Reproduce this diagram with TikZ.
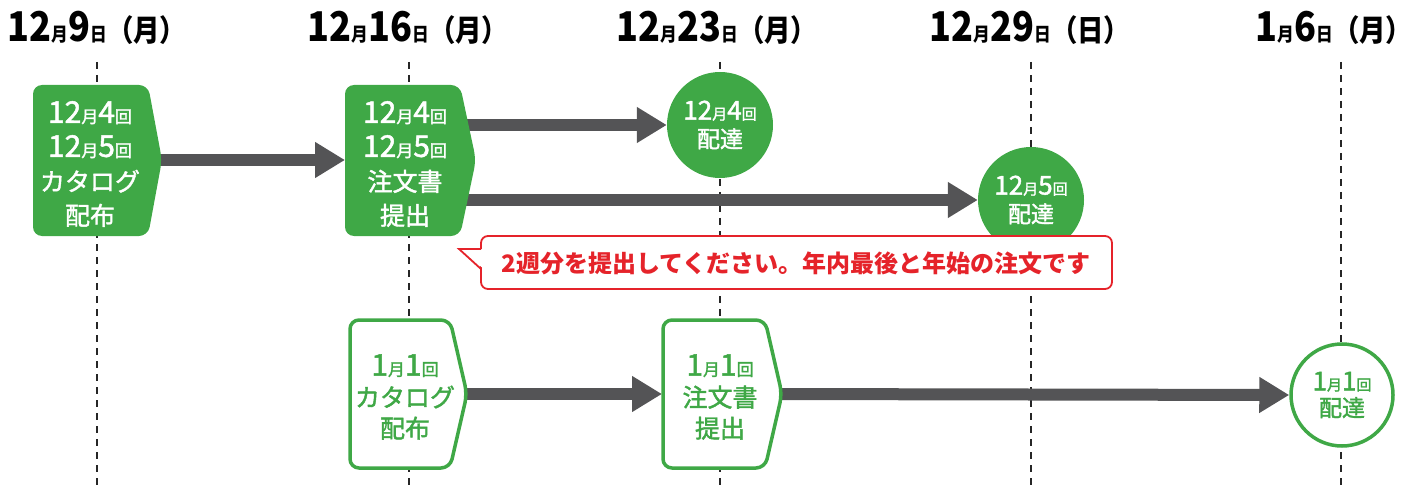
\documentclass[tikz,border=0pt]{standalone}
\usepackage{fontspec}
\setmainfont{Noto Sans CJK JP}
\newfontfamily\medf[FakeBold=1.6]{Noto Sans CJK JP}
\newfontfamily\hdf[FakeStretch=0.88]{Noto Sans CJK JP}
\usetikzlibrary{arrows.meta}
\definecolor{grn}{RGB}{63,168,70}
\definecolor{arrg}{RGB}{84,84,86}
\definecolor{rd}{RGB}{229,35,42}
\newcommand\hb[1]{{\fontsize{41}{41}\selectfont #1}}
\newcommand\hs[1]{{\fontsize{19}{19}\selectfont #1}}
\newcommand\hp[1]{{\fontsize{30}{30}\selectfont #1}}
\newcommand\bd[1]{{\fontsize{30}{30}\selectfont #1}}
\newcommand\bsm[1]{{\fontsize{17}{17}\selectfont #1}}
\newcommand\cd[1]{{\fontsize{26}{26}\selectfont #1}}
\newcommand\csm[1]{{\fontsize{15}{15}\selectfont #1}}
\tikzset{
  hdr/.style={font=\hdf\bfseries, inner sep=0pt, anchor=center},
  dline/.style={draw=black!85, line width=1.2pt, dash pattern=on 7pt off 6pt},
  arr/.style={draw=arrg, line width=12pt, -{Triangle[length=30pt,width=34pt]}},
  fshape/.style={fill=grn, rounded corners=9pt},
  oshape/.style={draw=grn, fill=white, line width=3.5pt, rounded corners=9pt},
  ftxt/.style={text=white, align=center, inner sep=0pt, font=\medf\fontsize{25}{34}\selectfont},
  otxt/.style={text=grn, align=center, inner sep=0pt, font=\medf\fontsize{25}{31}\selectfont},
  fcirc/.style={circle, fill=grn, text=white, align=center, inner sep=0pt, font=\medf\fontsize{23}{28}\selectfont},
  ocirc/.style={circle, draw=grn, fill=white, line width=3.5pt, text=grn, align=center, inner sep=0pt, font=\medf\fontsize{23}{26}\selectfont},
  note/.style={text=rd, inner sep=0pt, font=\bfseries\fontsize{24}{24}\selectfont}
}
\begin{document}
\begin{tikzpicture}[x=1pt,y=-1pt]
\useasboundingbox (0,0) rectangle (1413,489);
% headers
\node[hdr] (h1) at (97,28) {\hb{12}\hs{月}\hb{9}\hs{日}\hp{（月）}};
\node[hdr] (h2) at (408,28) {\hb{12}\hs{月}\hb{16}\hs{日}\hp{（月）}};
\node[hdr] (h3) at (717,28) {\hb{12}\hs{月}\hb{23}\hs{日}\hp{（月）}};
\node[hdr] (h4) at (1030,28) {\hb{12}\hs{月}\hb{29}\hs{日}\hp{（日）}};
\node[hdr] (h5) at (1334,28) {\hb{1}\hs{月}\hb{6}\hs{日}\hp{（月）}};
% dashed guide lines
\draw[dline] (97,62) -- (97,489);
\draw[dline] (409,62) -- (409,489);
\draw[dline] (720,62) -- (720,489);
\draw[dline] (1031,62) -- (1031,489);
\draw[dline] (1341,62) -- (1341,489);
% circles
\node[fcirc, minimum size=106pt] (c1) at (720,125) {\cd{12}\csm{月}\cd{4}\csm{回}\\配達};
\node[fcirc, minimum size=106pt] (c2) at (1031,200) {\cd{12}\csm{月}\cd{5}\csm{回}\\配達};
\node[ocirc, minimum size=102pt] (c3) at (1342,395) {\cd{1}\csm{月}\cd{1}\csm{回}\\配達};
% arrow anchor coordinates
\coordinate (b1e) at (150,160);
\coordinate (b2w) at (345,160);
\coordinate (b2ea) at (455,125);
\coordinate (b2eb) at (455,200);
\coordinate (b3e) at (455,394);
\coordinate (b4w) at (662,394);
\coordinate (b4e) at (770,394);
% arrows
\draw[arr] (b1e) -- (b2w);
\draw[arr] (b2ea) -- (c1.west);
\draw[arr] (b2eb) -- (c2.west);
\draw[arr] (b3e) -- (b4w);
\draw[arr] (b4e) -- (c3.west);
% boxes
\fill[fshape] (33,85) -- (148,85) -- (162,160) -- (148,236) -- (33,236) -- cycle;
\node[ftxt] (t1) at (90,164) {\bd{12}\bsm{月}\bd{4}\bsm{回}\\\bd{12}\bsm{月}\bd{5}\bsm{回}\\カタログ\\配布};
\fill[fshape] (345,85) -- (460,85) -- (476,160) -- (460,236) -- (345,236) -- cycle;
\node[ftxt] (t2) at (405,164) {\bd{12}\bsm{月}\bd{4}\bsm{回}\\\bd{12}\bsm{月}\bd{5}\bsm{回}\\注文書\\提出};
\draw[oshape] (350,320) -- (450,320) -- (467,394) -- (450,468) -- (350,468) -- cycle;
\node[otxt] (t3) at (405,397) {\bd{1}\bsm{月}\bd{1}\bsm{回}\\カタログ\\配布};
\draw[oshape] (663,320) -- (765,320) -- (782,394) -- (765,468) -- (663,468) -- cycle;
\node[otxt] (t4) at (720,397) {\bd{1}\bsm{月}\bd{1}\bsm{回}\\注文書\\提出};
% callout
\draw[rd, line width=1.8pt, fill=white, rounded corners=7pt] (481,236) rectangle (1112,289);
\fill[white] (459,249) -- (484,249) -- (484,269) -- cycle;
\draw[rd, line width=1.8pt, line join=miter] (481,249) -- (459,249) -- (481,269);
\node[note] (n1) at (796,263) {2週分を提出してください。年内最後と年始の注文です};
\end{tikzpicture}
\end{document}
